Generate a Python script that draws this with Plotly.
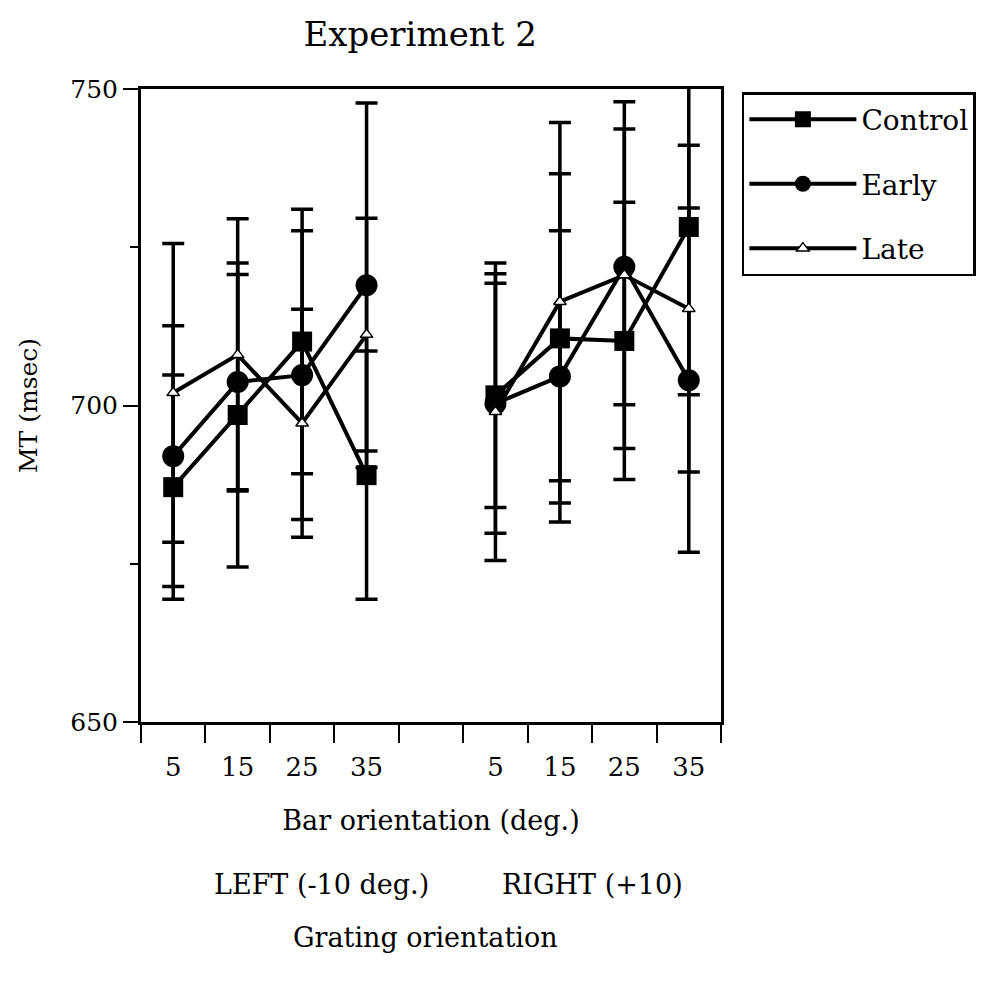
import plotly.graph_objects as go

# ---- data ----
slots = [0.5, 1.5, 2.5, 3.5, 5.5, 6.5, 7.5, 8.5]
bar_labels = ["5", "15", "25", "35", "5", "15", "25", "35"]

control = [687.1, 698.5, 710.1, 689.0, 701.6, 710.6, 710.2, 728.2]
control_err = [17.7, 24.0, 20.9, 19.6, 17.7, 26.0, 21.9, 26.5]
early = [692.0, 703.7, 704.8, 719.0, 700.3, 704.6, 721.9, 704.0]
early_err = [20.6, 17.0, 22.8, 28.8, 20.5, 23.0, 21.8, 27.2]
late = [702.0, 708.0, 697.2, 711.2, 699.0, 716.4, 720.6, 715.3]
late_err = [23.6, 21.5, 18.0, 18.4, 23.5, 28.3, 27.4, 25.8]

FONT = "DejaVu Serif"


def split(vals):
    # break the line between the LEFT and RIGHT groups
    return vals[:4] + [None] + vals[4:]


xs = split(slots)

fig = go.Figure()
series = [
    ("Control", control, control_err, dict(symbol="square", size=20, color="black")),
    ("Early", early, early_err, dict(symbol="circle", size=22, color="black")),
    ("Late", late, late_err, dict(symbol="triangle-up", size=11, color="white",
                                  line=dict(color="black", width=1.5))),
]
for name, vals, errs, mk in series:
    fig.add_trace(go.Scatter(
        x=xs, y=split(vals), name=name, legendgroup=name,
        mode="lines+markers",
        line=dict(color="black", width=4),
        marker=mk,
        connectgaps=False,
        error_y=dict(type="data", array=split(errs), visible=True,
                     color="black", thickness=3.5, width=11),
    ))

fig.update_layout(
    width=991, height=990,
    paper_bgcolor="white", plot_bgcolor="white",
    margin=dict(l=141, r=270, t=89, b=268, autoexpand=False),
    font=dict(family=FONT, color="black", size=26),
    title=dict(text="Experiment 2", x=0.424, xanchor="center", y=0.966, yanchor="middle",
               font=dict(family=FONT, size=34, color="black")),
    showlegend=True,
    legend=dict(x=1.036, xanchor="left", y=0.995, yanchor="top",
                bordercolor="black", borderwidth=2.5, bgcolor="white",
                font=dict(family=FONT, size=28, color="black"),
                tracegroupgap=25, itemwidth=107),
    xaxis=dict(
        range=[0, 9], tickmode="array", tickvals=slots, ticktext=bar_labels,
        ticks="", ticklabelstandoff=20, showgrid=False, zeroline=False,
        showline=True, linecolor="black", linewidth=3, mirror=True,
        tickfont=dict(family=FONT, size=26),
        minor=dict(ticks="outside", tickmode="linear", tick0=0, dtick=1,
                   ticklen=18, tickwidth=2, tickcolor="black", showgrid=False),
        title=dict(text="Bar orientation (deg.)", standoff=30,
                   font=dict(family=FONT, size=27)),
    ),
    yaxis=dict(
        range=[650, 750], tickmode="array", tickvals=[650, 700, 750],
        ticks="outside", ticklen=15, tickwidth=2, tickcolor="black",
        showgrid=False, zeroline=False,
        tickfont=dict(family=FONT, size=25),
        showline=True, linecolor="black", linewidth=3, mirror=True,
        minor=dict(ticks="outside", tickmode="linear", tick0=650, dtick=25,
                   ticklen=8, tickwidth=2, tickcolor="black", showgrid=False),
        title=dict(text="MT (msec)", standoff=26, font=dict(family=FONT, size=25)),
    ),
    annotations=[
        dict(text="LEFT (-10 deg.)", x=0.312, y=-0.2575, xref="paper", yref="paper",
             xanchor="center", yanchor="middle",
             showarrow=False, font=dict(family=FONT, size=27)),
        dict(text="RIGHT (+10)", x=0.779, y=-0.2575, xref="paper", yref="paper",
             xanchor="center", yanchor="middle",
             showarrow=False, font=dict(family=FONT, size=27)),
        dict(text="Grating orientation", x=0.49, y=-0.341, xref="paper", yref="paper",
             xanchor="center", yanchor="middle",
             showarrow=False, font=dict(family=FONT, size=27)),
    ],
)

fig.write_html("out.html")
